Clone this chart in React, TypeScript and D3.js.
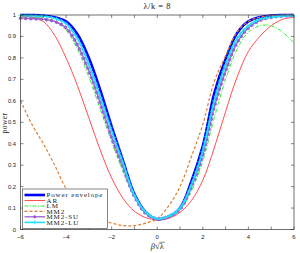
import React, { useEffect, useRef } from "react";
import * as d3 from "d3";

const betaGrid = [-6, -5.5, -5, -4.5, -4, -3.5, -3, -2.5, -2, -1.5, -1, -0.5, 0, 0.5, 1, 1.5, 2, 2.5, 3, 3.5, 4, 4.5, 5, 5.5, 6];

const powerEnvelope = [1.0, 1.0, 0.998, 0.99, 0.97, 0.91, 0.8, 0.65, 0.48, 0.32, 0.165, 0.08, 0.048, 0.06, 0.1, 0.225, 0.39, 0.635, 0.795, 0.915, 0.97, 0.99, 0.998, 1.0, 1.0];
const arPower = [0.995, 0.99, 0.97, 0.905, 0.8, 0.67, 0.52, 0.37, 0.24, 0.145, 0.085, 0.055, 0.045, 0.052, 0.08, 0.135, 0.23, 0.38, 0.55, 0.71, 0.83, 0.9, 0.95, 0.98, 0.99];
const lmPower = [0.99, 0.99, 0.985, 0.97, 0.93, 0.84, 0.71, 0.56, 0.41, 0.27, 0.15, 0.075, 0.05, 0.058, 0.09, 0.18, 0.32, 0.52, 0.7, 0.84, 0.92, 0.95, 0.95, 0.92, 0.87];
const mm2Power = [0.6, 0.49, 0.4, 0.3, 0.19, 0.12, 0.07, 0.045, 0.03, 0.018, 0.018, 0.03, 0.05, 0.11, 0.2, 0.34, 0.49, 0.69, 0.81, 0.92, 0.97, 0.99, 0.997, 1.0, 1.0];
const mm2SuPower = [0.985, 0.983, 0.98, 0.97, 0.94, 0.86, 0.74, 0.59, 0.43, 0.29, 0.155, 0.075, 0.05, 0.06, 0.095, 0.2, 0.35, 0.57, 0.74, 0.87, 0.94, 0.975, 0.99, 0.995, 0.998];
const mm2LuPower = [0.998, 0.997, 0.995, 0.985, 0.96, 0.89, 0.77, 0.62, 0.46, 0.31, 0.16, 0.08, 0.05, 0.062, 0.1, 0.21, 0.37, 0.6, 0.77, 0.89, 0.95, 0.98, 0.99, 0.995, 0.998];

const seriesNames = ["Power envelope", "AR", "LM", "MM2", "MM2-SU", "MM2-LU"];
const seriesValues = [powerEnvelope, arPower, lmPower, mm2Power, mm2SuPower, mm2LuPower];

const xTicks = [-6, -5, -4, -3, -2, -1, 0, 1, 2, 3, 4, 5, 6];
const xTickLabels = ["\u22126", "", "\u22124", "", "\u22122", "", "0", "", "2", "", "4", "", "6"];
const yTicks = [0, 0.1, 0.2, 0.3, 0.4, 0.5, 0.6, 0.7, 0.8, 0.9, 1];
const yTickLabels = ["0", "0.1", "0.2", "0.3", "0.4", "0.5", "0.6", "0.7", "0.8", "0.9", "1"];

const titleText = "\u03BB/k = 8";
const yLabelText = "power";

const styles = [
  { color: "#0000ff", width: 2.6, dash: "", marker: "" },
  { color: "#ff3b3b", width: 0.9, dash: "", marker: "" },
  { color: "#33ee33", width: 1.0, dash: "4,1.5,1,1.5", marker: "" },
  { color: "#dd7f33", width: 1.2, dash: "3,2", marker: "" },
  { color: "#9b5fcf", width: 1.3, dash: "", marker: "star" },
  { color: "#22e0ff", width: 1.6, dash: "", marker: "plus" },
];

export default function App() {
  const ref = useRef<SVGSVGElement>(null);
  useEffect(() => {
    const svg = d3.select(ref.current);
    svg.selectAll("*").remove();
    const L = 20.5, R = 294, T = 15, B = 229.5;
    const x = d3.scaleLinear().domain([-6, 6]).range([L, R]);
    const y = d3.scaleLinear().domain([0, 1]).range([B, T]);
    const axisColor = "#333";

    svg.append("rect").attr("width", 300).attr("height", 253).attr("fill", "#fff");

    const line = d3
      .line<number>()
      .x((_, i) => x(betaGrid[i]))
      .y((d) => y(d))
      .curve(d3.curveCatmullRom.alpha(0.5));

    const drawMarkers = (pathNode: SVGPathElement, kind: string, color: string) => {
      const total = pathNode.getTotalLength();
      const step = 5.2;
      const g = svg.append("g");
      for (let s = 0; s <= total; s += step) {
        const p = pathNode.getPointAtLength(s);
        if (kind === "star") {
          g.append("circle").attr("cx", p.x).attr("cy", p.y).attr("r", 1.6).attr("fill", color);
          const r = 2.1;
          for (let a = 0; a < 3; a++) {
            const ang = (a * Math.PI) / 3 + Math.PI / 2;
            g.append("line")
              .attr("x1", p.x - r * Math.cos(ang)).attr("y1", p.y - r * Math.sin(ang))
              .attr("x2", p.x + r * Math.cos(ang)).attr("y2", p.y + r * Math.sin(ang))
              .attr("stroke", color).attr("stroke-width", 0.7);
          }
        } else if (kind === "plus") {
          const r = 2;
          g.append("line").attr("x1", p.x - r).attr("y1", p.y).attr("x2", p.x + r).attr("y2", p.y).attr("stroke", color).attr("stroke-width", 0.8);
          g.append("line").attr("x1", p.x).attr("y1", p.y - r).attr("x2", p.x).attr("y2", p.y + r).attr("stroke", color).attr("stroke-width", 0.8);
        }
      }
    };

    seriesValues.forEach((vals, k) => {
      const st = styles[k];
      const path = svg
        .append("path")
        .attr("d", line(vals) || "")
        .attr("fill", "none")
        .attr("stroke", st.color)
        .attr("stroke-width", st.width)
        .attr("stroke-dasharray", st.dash || null)
        .attr("stroke-linejoin", "round");
      if (st.marker) drawMarkers(path.node() as SVGPathElement, st.marker, st.color);
    });

    // Box
    svg.append("rect").attr("x", L).attr("y", T).attr("width", R - L).attr("height", B - T)
      .attr("fill", "none").attr("stroke", axisColor).attr("stroke-width", 0.7);

    const tl = 3;
    const ax = svg.append("g");
    xTicks.forEach((t, i) => {
      const px = x(t);
      ax.append("line").attr("x1", px).attr("x2", px).attr("y1", B).attr("y2", B - tl).attr("stroke", axisColor).attr("stroke-width", 0.6);
      ax.append("line").attr("x1", px).attr("x2", px).attr("y1", T).attr("y2", T + tl).attr("stroke", axisColor).attr("stroke-width", 0.6);
      if (xTickLabels[i])
        ax.append("text").attr("x", px).attr("y", 238.5).attr("text-anchor", "middle")
          .attr("font-family", "Liberation Sans, Arial, sans-serif").attr("font-size", 6).attr("fill", "#222")
          .text(xTickLabels[i]);
    });
    yTicks.forEach((t, i) => {
      const py = y(t);
      ax.append("line").attr("x1", L).attr("x2", L + tl).attr("y1", py).attr("y2", py).attr("stroke", axisColor).attr("stroke-width", 0.6);
      ax.append("line").attr("x1", R).attr("x2", R - tl).attr("y1", py).attr("y2", py).attr("stroke", axisColor).attr("stroke-width", 0.6);
      ax.append("text").attr("x", 16).attr("y", py + 2).attr("text-anchor", "end")
        .attr("font-family", "Liberation Sans, Arial, sans-serif").attr("font-size", 5.8).attr("fill", "#222")
        .text(yTickLabels[i]);
    });

    // Title
    svg.append("text").attr("x", (L + R) / 2).attr("y", 8.8).attr("text-anchor", "middle")
      .attr("font-family", "Liberation Serif, serif").attr("font-size", 8.5).attr("letter-spacing", 0.5)
      .attr("fill", "#222").text(titleText);
    // Y label
    svg.append("text").attr("transform", `translate(7,123) rotate(-90)`).attr("text-anchor", "middle")
      .attr("font-family", "Liberation Serif, serif").attr("font-size", 7.5).attr("letter-spacing", 0.4)
      .attr("fill", "#222").text(yLabelText);
    // X label: beta sqrt(lambda)
    const xl = svg.append("text").attr("x", (L + R) / 2).attr("y", 249).attr("text-anchor", "middle")
      .attr("font-family", "Liberation Serif, serif").attr("font-size", 8.5).attr("fill", "#222");
    xl.append("tspan").attr("font-style", "italic").text("\u03B2");
    xl.append("tspan").text("\u221A\u03BB");
    const xlNode = xl.node() as SVGTextElement;
    const bb = xlNode.getBBox();
    svg.append("line").attr("x1", bb.x + bb.width - 4.9).attr("x2", bb.x + bb.width + 0.3)
      .attr("y1", bb.y + 1.3).attr("y2", bb.y + 1.3).attr("stroke", "#222").attr("stroke-width", 0.5);

    // Legend
    const lg = svg.append("g");
    lg.append("rect").attr("x", 22.5).attr("y", 189).attr("width", 85).attr("height", 39.5)
      .attr("fill", "#fff").attr("stroke", axisColor).attr("stroke-width", 0.6);
    const rowY = [195, 200.5, 206, 211.3, 216.8, 222.4];
    seriesNames.forEach((name, k) => {
      const st = styles[k];
      const yy = rowY[k];
      lg.append("line").attr("x1", 24.5).attr("x2", 45).attr("y1", yy).attr("y2", yy)
        .attr("stroke", st.color).attr("stroke-width", st.width).attr("stroke-dasharray", st.dash || null);
      if (st.marker === "star") {
        lg.append("circle").attr("cx", 34.7).attr("cy", yy).attr("r", 1.6).attr("fill", st.color);
      } else if (st.marker === "plus") {
        lg.append("line").attr("x1", 32.7).attr("x2", 36.7).attr("y1", yy).attr("y2", yy).attr("stroke", st.color).attr("stroke-width", 0.8);
        lg.append("line").attr("x1", 34.7).attr("x2", 34.7).attr("y1", yy - 2).attr("y2", yy + 2).attr("stroke", st.color).attr("stroke-width", 0.8);
      }
      lg.append("text").attr("x", 46.5).attr("y", yy + 2.2)
        .attr("font-family", "Liberation Serif, serif").attr("font-size", 7).attr("letter-spacing", 0.85)
        .attr("fill", "#222").text(name);
    });
  }, []);
  return (
    <svg
      ref={ref}
      width={300}
      height={253}
      style={{ position: "absolute", left: 0, top: 0, display: "block" }}
    />
  );
}
